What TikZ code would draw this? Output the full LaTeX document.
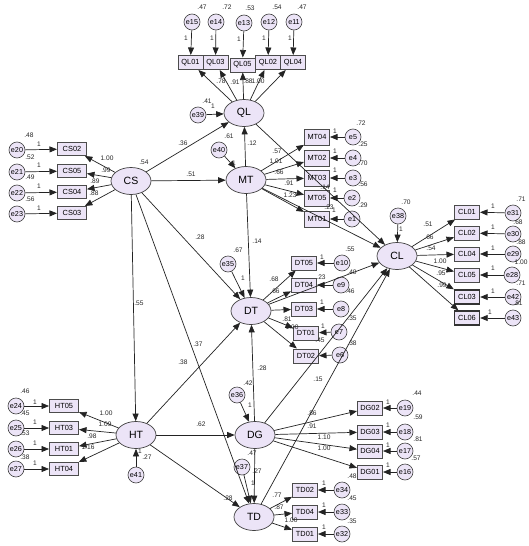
\documentclass[tikz,border=0pt]{standalone}
\usepackage{fontspec}
\setmainfont{Liberation Sans}
\usetikzlibrary{shapes.geometric,arrows.meta}
\definecolor{lav}{RGB}{236,228,247}
\definecolor{edg}{RGB}{35,35,35}
\begin{document}
\begin{tikzpicture}[x=1pt,y=-1pt,
 lat/.style={ellipse,draw=black!75,fill=lav,minimum width=40pt,minimum height=27pt,inner sep=0pt,font=\fontsize{10.5}{10.5}\selectfont,line width=0.7pt},
 obs/.style={rectangle,draw=black!70,fill=lav,minimum width=25pt,minimum height=14pt,inner sep=0pt,font=\fontsize{7.4}{7.4}\selectfont,line width=1pt},
 wobs/.style={obs,minimum width=29pt,minimum height=13pt},
 tobs/.style={obs,minimum height=16pt},
 bobs/.style={obs,line width=1.4pt,draw=black!80},
 err/.style={circle,draw=black!75,fill=lav,minimum size=16pt,inner sep=0pt,font=\fontsize{7.2}{7.2}\selectfont,line width=0.6pt},
 lb/.style={font=\fontsize{6.6}{6.6}\selectfont,inner sep=0pt,text=black!85},
 arr/.style={draw=edg,line width=0.7pt,-{Triangle[length=7.5pt,width=6pt]}},
]
\useasboundingbox[fill=white] (0,0) rectangle (529,546);

% latent variables
\node[lat] (QL) at (244,113) {QL};
\node[lat] (CS) at (131,181) {CS};
\node[lat] (MT) at (246,180) {MT};
\node[lat] (CL) at (397,256) {CL};
\node[lat] (DT) at (251,311) {DT};
\node[lat] (HT) at (136,435) {HT};
\node[lat] (DG) at (255,435) {DG};
\node[lat] (TD) at (254,517) {TD};

% observed indicators
\foreach \n/\x/\y in {QL01/190.5/62.5,QL03/215.5/62.5,QL05/242.5/65,QL02/268/62.5,QL04/293/62.5,
  DT05/304/263,DT04/304/285,DT03/304/309,DT01/306/333,DT02/306/356,
  DG02/370/408,DG03/370/432,DG04/370/451,DG01/370/472,
  TD02/305/490,TD04/305/512,TD01/305/534,
  CL01/467/212,CL02/467/233,CL04/467/254,CL05/467/275}
  \node[obs] (\n) at (\x,\y) {\n};
\foreach \n/\x/\y in {CL03/467/297,CL06/467/318}
  \node[bobs] (\n) at (\x,\y) {\n};
\foreach \n/\x/\y in {MT04/317/137,MT02/317/158,MT03/317/178,MT05/317/198,MT01/317/219}
  \node[tobs] (\n) at (\x,\y) {\n};
\foreach \n/\x/\y in {CS02/72/149,CS05/72/171,CS04/72/192,CS03/72/213,
  HT05/64/406,HT03/64/428,HT01/64/449,HT04/64/469}
  \node[wobs] (\n) at (\x,\y) {\n};

% error terms
\foreach \n/\x/\y in {e15/192/22,e14/216/22,e13/244/23,e12/269/22,e11/294/22,
  e39/198/115,e40/219/150,
  e20/17/150,e21/17/172,e22/17/193,e23/17/214,
  e5/353/137,e4/353/158,e3/353/178,e2/352/198,e1/352/219,
  e38/398/216,
  e31/513/213,e30/513/234,e29/513/254,e28/512/275,e42/513/297,e43/513/318,
  e35/228/264,
  e10/342/263,e9/341/285,e8/341/309,e7/339/332,e6/340/355,
  e36/237/395,
  e19/405/408,e18/405/432,e17/405/451,e16/405/472,
  e37/242/467,
  e34/342/490,e33/342/512,e32/342/534,
  e24/16/406,e25/16/428,e26/16/449,e27/16/469,
  e41/136/475}
  \node[err] (\n) at (\x,\y) {\n};

% measurement paths
\foreach \a/\b in {QL/QL01,QL/QL03,QL/QL05,QL/QL02,QL/QL04,
  CS/CS02,CS/CS05,CS/CS04,CS/CS03,
  MT/MT04,MT/MT02,MT/MT03,MT/MT05,MT/MT01,
  CL/CL01,CL/CL02,CL/CL04,CL/CL05,CL/CL03,CL/CL06,
  DT/DT05,DT/DT04,DT/DT03,DT/DT01,DT/DT02,
  DG/DG02,DG/DG03,DG/DG04,DG/DG01,
  TD/TD02,TD/TD04,TD/TD01,
  HT/HT05,HT/HT03,HT/HT01,HT/HT04}
  \draw[arr] (\a) -- (\b);

% error paths
\foreach \a/\b in {e15/QL01,e14/QL03,e13/QL05,e12/QL02,e11/QL04,
  e20/CS02,e21/CS05,e22/CS04,e23/CS03,
  e5/MT04,e4/MT02,e3/MT03,e2/MT05,e1/MT01,
  e31/CL01,e30/CL02,e29/CL04,e28/CL05,e42/CL03,e43/CL06,
  e10/DT05,e9/DT04,e8/DT03,e7/DT01,e6/DT02,
  e19/DG02,e18/DG03,e17/DG04,e16/DG01,
  e34/TD02,e33/TD04,e32/TD01,
  e24/HT05,e25/HT03,e26/HT01,e27/HT04,
  e39/QL,e40/MT,e38/CL,e35/DT,e36/DG,e37/TD,e41/HT}
  \draw[arr] (\a) -- (\b);

% structural paths
\foreach \a/\b in {CS/QL,CS/MT,CS/DT,CS/HT,CS/TD,MT/QL,MT/DT,QL/CL,MT/CL,
  HT/DT,HT/DG,HT/TD,DG/DT,DG/TD,DG/CL,TD/CL,DT/CL}
  \draw[arr] (\a) -- (\b);

% labels
\foreach \x/\y/\t in {
 202/7/.47,227/7/.72,250/8/.53,277/7/.54,302/7/.47,
 186/38/1,212/38/1,239/39/1,264/38/1,290/38/1,
 221/81/.78,235/82/.91,248/81/.88,258/81/1.00,
 207/101/.41,213/106/1,229/136/.61,234/163/1,252/143/.12,
 183/143/.36,191/174/.51,
 29/135/.48,30/157/.52,30/177/.49,30/199/.56,
 39/144/1,39/165/1,39/186/1,39/208/1,
 107/158/1.00,106/170/.99,95/181/.89,94/193/.88,144/162/.54,
 361/123/.72,363/144/.25,363/163/.70,363/184/.56,363/205/.29,
 335/131/1,335/151/1,335/170/1,335/190/1,334/210/1,
 277/151/.57,276/161/1.01,279/172/.66,289/183/.91,290/195/1.23,
 325/187/.14,329/207/.23,
 406/202/.70,401/229/1,
 521/199/.71,518/222/.68,521/242/.88,521/262/1.00,521/283/.71,518/303/.81,
 493/206/1,493/227/1,493/248/1,493/268/1,493/291/1,490/312/1,
 428/224/.51,429/237/.66,431/248/.54,440/261/1.00,441/273/.95,442/285/.99,
 238/250/.67,243/278/1,257/241/.14,200/237/.28,
 350/249/.55,352/272/.40,350/291/.46,352/318/.35,352/343/.38,
 322/257/1,321/277/.23,322/302/1,323/326/1,320/340/.45,
 274/279/.68,275/291/.66,287/319/.81,292/327/1.00,
 248/383/.42,250/405/1,262/368/.28,201/424/.62,252/453/.47,
 318/379/.15,312/413/.86,
 417/393/.44,418/417/.59,418/439/.81,416/458/.57,
 388/402/1,388/425/1,388/445/1,388/465/1,
 312/426/.91,324/437/1.10,324/448/1.00,352/476/.48,
 257/471/.27,253/483/1,228/498/.28,
 352/498/.45,352/521/.35,
 324/483/1,324/505/1,324/527/1,
 277/495/.77,279/507/.87,291/520/1.00,
 140/451/1,147/457/.27,
 25/391/.46,25/413/.45,25/433/.53,25/457/.38,
 35/402/1,35/422/1,35/443/1,35/463/1,
 106/413/1.00,105/424/1.09,92/436/.98,88/447/1.16,
 139/303/.55,183/362/.38,198/344/.37}
 \node[lb] at (\x,\y) {\t};
\end{tikzpicture}
\end{document}
